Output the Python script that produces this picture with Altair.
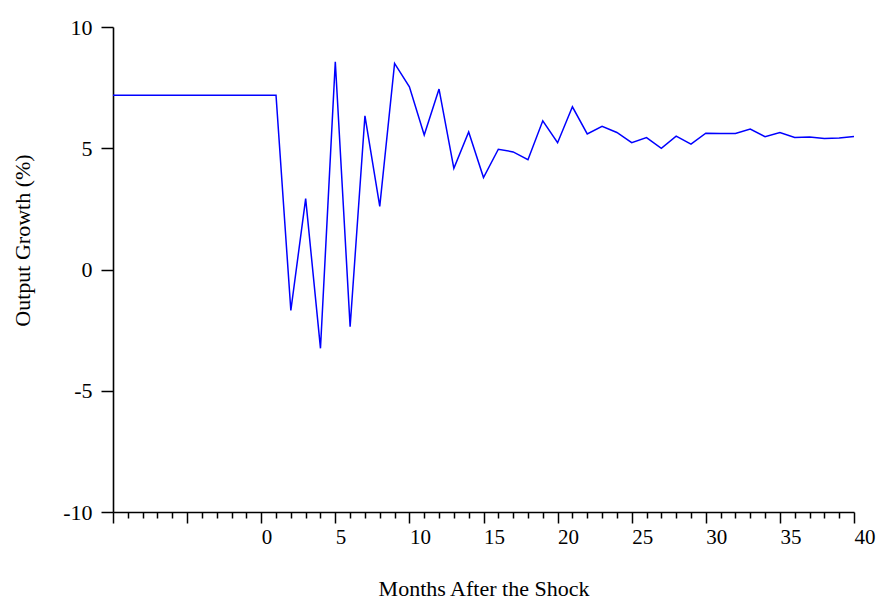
import altair as alt
import pandas as pd

months = list(range(-10, 41))
growth = [7.19, 7.19, 7.19, 7.19, 7.19, 7.19, 7.19, 7.19, 7.19, 7.19, 7.19, 7.19,
          -1.69, 2.92, -3.25, 8.57, -2.36, 6.34, 2.60, 8.50, 7.53,
          5.55, 7.44, 4.17, 5.67, 3.79, 4.96, 4.85, 4.53, 6.13, 5.23,
          6.71, 5.59, 5.90, 5.65, 5.23, 5.44, 5.00, 5.50, 5.17, 5.62,
          5.61, 5.61, 5.79, 5.48, 5.65, 5.44, 5.46, 5.40, 5.42, 5.48]
x_ticks = list(range(-10, 41))
y_ticks = [-10, -5, 0, 5, 10]

df = pd.DataFrame({"month": months, "growth": growth})

FONT = "Liberation Serif"

chart = alt.Chart(df).mark_line(color="#0000FF", strokeWidth=1.5).encode(
    x=alt.X("month:Q",
            scale=alt.Scale(domain=[-10, 40], nice=False, zero=False),
            axis=alt.Axis(values=x_ticks,
                          labelExpr="datum.value >= 0 && datum.value % 5 === 0 ? '' + datum.value : ''",
                          tickSize={"condition": {"test": "datum.value % 5 === 0", "value": 11}, "value": 6},
                          labelAlign="left", labelBaseline="top", labelPadding=3,
                          labelOverlap=False, labelFlush=False,
                          labelFontSize=21, labelFont=FONT, labelColor="black",
                          domainColor="black", domainWidth=1.6,
                          tickColor="black", tickWidth=1.5,
                          grid=False,
                          title="Months After the Shock", titleFont=FONT, titleFontSize=22,
                          titleFontWeight="normal", titleColor="black",
                          titleBaseline="middle", titleAlign="center",
                          titleY=76)),
    y=alt.Y("growth:Q",
            scale=alt.Scale(domain=[-10, 10], nice=False, zero=False),
            axis=alt.Axis(values=y_ticks, tickSize=12, labelPadding=9,
                          labelExpr="'' + datum.value",
                          labelFontSize=22, labelFont=FONT, labelColor="black",
                          domainColor="black", domainWidth=1.6,
                          tickColor="black", tickWidth=1.5,
                          grid=False,
                          title="Output Growth (%)", titleFont=FONT, titleFontSize=22,
                          titleFontWeight="normal", titleColor="black",
                          titleAngle=-90, titleBaseline="middle", titleAlign="center",
                          titleX=-91, titleY=213)),
).properties(
    width=741, height=485,
    autosize=alt.AutoSizeParams(type="none"),
    padding={"left": 105, "top": 19, "right": 23, "bottom": 88},
    view=alt.ViewBackground(stroke="transparent", strokeWidth=0),
).configure_view(stroke="transparent", strokeWidth=0).configure(background="white")

chart.save("out.html", embed_options={"renderer": "svg", "actions": False})
